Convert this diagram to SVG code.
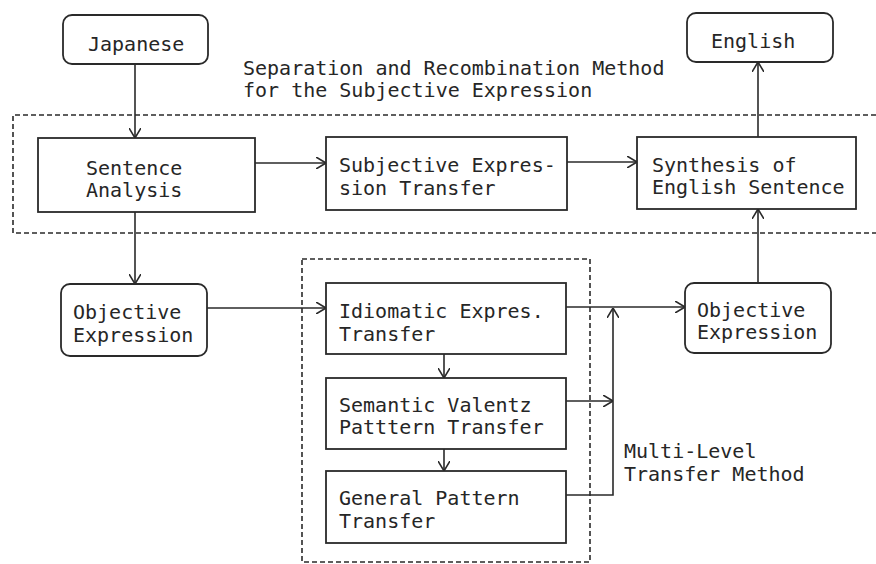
<svg xmlns="http://www.w3.org/2000/svg" width="876" height="564" viewBox="0 0 876 564">
<defs>
<marker id="arr" viewBox="0 0 10 12" refX="10" refY="6" markerWidth="10" markerHeight="12" markerUnits="userSpaceOnUse" orient="auto">
<path d="M0,0 L10,6 L0,12" fill="none" stroke="#2a2a2a" stroke-width="1.6"/>
</marker>
</defs>
<style>
.box{fill:#fff;stroke:#2a2a2a;stroke-width:1.8}
.dash{fill:none;stroke:#2a2a2a;stroke-width:1.6;stroke-dasharray:5 3}
.ar{fill:none;stroke:#2a2a2a;stroke-width:1.6;marker-end:url(#arr)}
text{font-family:"DejaVu Sans Mono","Liberation Mono",monospace;font-size:20px;fill:#262626}
</style>
<rect width="876" height="564" fill="#fff"/>
<g id="groups">
<path class="dash" d="M876,115 L13,115 L13,233 L876,233"/>
<rect class="dash" x="302" y="259" width="288" height="303"/>
<text x="243" y="75">Separation and Recombination Method</text>
<text x="243" y="97">for the Subjective Expression</text>
<text x="624" y="458">Multi-Level</text>
<text x="624" y="481">Transfer Method</text>
</g>
<g id="connectors">
<line class="ar" x1="135" y1="64" x2="135" y2="138"/>
<line class="ar" x1="255" y1="163" x2="326" y2="163"/>
<line class="ar" x1="567" y1="162" x2="637" y2="162"/>
<line class="ar" x1="758" y1="137" x2="758" y2="62"/>
<line class="ar" x1="135" y1="212" x2="135" y2="284"/>
<line class="ar" x1="207" y1="308" x2="326" y2="308"/>
<line class="ar" x1="444" y1="354" x2="444" y2="378"/>
<line class="ar" x1="444" y1="449" x2="444" y2="471"/>
<line class="ar" x1="566" y1="307" x2="685" y2="307"/>
<line class="ar" x1="566" y1="401" x2="613" y2="401"/>
<path class="ar" d="M566,495 L613,495 L613,308"/>
<line class="ar" x1="758" y1="283" x2="758" y2="209"/>
</g>
<g id="japanese">
<rect class="box" x="63" y="15" width="145" height="49" rx="9"/>
<text x="88" y="51">Japanese</text>
</g>
<g id="english">
<rect class="box" x="687" y="13" width="146" height="49" rx="9"/>
<text x="711" y="48">English</text>
</g>
<g id="sentence-analysis">
<rect class="box" x="38" y="138" width="217" height="74"/>
<text x="86" y="175">Sentence</text>
<text x="86" y="197">Analysis</text>
</g>
<g id="subjective-transfer">
<rect class="box" x="326" y="137" width="241" height="73"/>
<text x="339" y="172">Subjective Expres-</text>
<text x="339" y="195">sion Transfer</text>
</g>
<g id="synthesis">
<rect class="box" x="637" y="137" width="219" height="72"/>
<text x="652" y="172">Synthesis of</text>
<text x="652" y="194">English Sentence</text>
</g>
<g id="objective-left">
<rect class="box" x="61" y="284" width="146" height="72" rx="9"/>
<text x="73" y="319">Objective</text>
<text x="73" y="342">Expression</text>
</g>
<g id="idiomatic">
<rect class="box" x="326" y="283" width="240" height="71"/>
<text x="339" y="318">Idiomatic Expres.</text>
<text x="339" y="341">Transfer</text>
</g>
<g id="semantic">
<rect class="box" x="326" y="378" width="240" height="71"/>
<text x="339" y="412">Semantic Valentz</text>
<text x="339" y="434">Patttern Transfer</text>
</g>
<g id="general">
<rect class="box" x="326" y="471" width="240" height="72"/>
<text x="339" y="505">General Pattern</text>
<text x="339" y="528">Transfer</text>
</g>
<g id="objective-right">
<rect class="box" x="685" y="283" width="146" height="70" rx="9"/>
<text x="697" y="317">Objective</text>
<text x="697" y="339">Expression</text>
</g>
</svg>
